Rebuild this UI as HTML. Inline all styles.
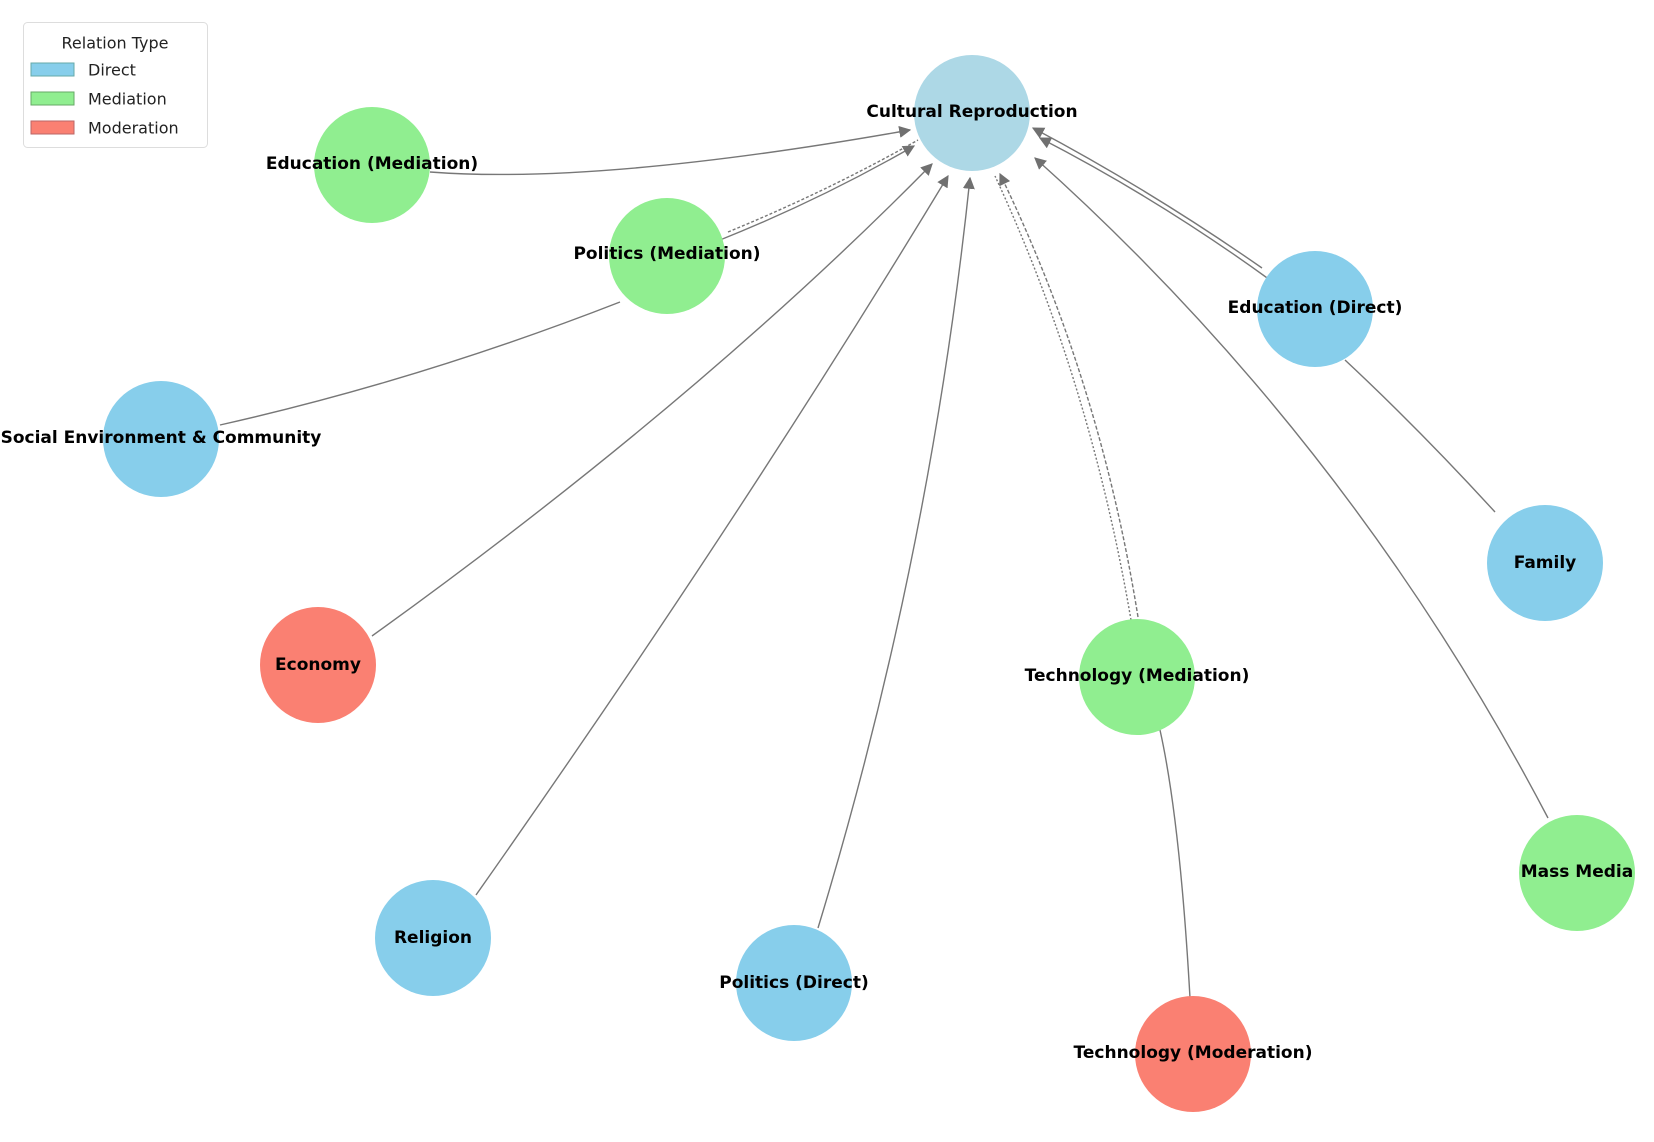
<!DOCTYPE html>
<html><head><meta charset="utf-8"><style>
html,body{margin:0;padding:0;background:#fff;}
svg{display:block;}
text{font-family:"DejaVu Sans","Liberation Sans",sans-serif;}
.l{font-size:17px;font-weight:bold;fill:#000;text-anchor:middle;dominant-baseline:central;}
.e{fill:none;stroke:#777;stroke-width:1.4;}
</style></head><body>
<svg width="1654" height="1142" viewBox="0 0 1654 1142">
<defs><marker id="a" viewBox="0 0 10 10" refX="9" refY="5" markerWidth="12" markerHeight="12" markerUnits="userSpaceOnUse" orient="auto"><path d="M0,0 L10,5 L0,10 z" fill="#707070"/></marker></defs>
<path class="e" d="M430,172 Q600,185 910,130" marker-end="url(#a)"/>
<path class="e" d="M720,240 Q820,200 914,146" marker-end="url(#a)"/>
<path class="e" d="M728,232 Q830,190 918,140" stroke-dasharray="3,2"/>
<path class="e" d="M220,425 Q420,380 620,302"/>
<path class="e" d="M372,636 Q700,400 932,164" marker-end="url(#a)"/>
<path class="e" d="M476,895 Q740,520 948,176" marker-end="url(#a)"/>
<path class="e" d="M818,928 Q930,560 970,178" marker-end="url(#a)"/>
<path class="e" d="M1138,617 Q1100,380 1000,174" marker-end="url(#a)" stroke-dasharray="4,2"/>
<path class="e" d="M1131,620 Q1090,380 995,176" stroke-dasharray="2,2"/>
<path class="e" d="M1190,998 Q1180,820 1160,730"/>
<path class="e" d="M1548,818 Q1350,440 1035,158" marker-end="url(#a)"/>
<path class="e" d="M1270,280 Q1160,200 1040,138" marker-end="url(#a)"/>
<path class="e" d="M1262,268 Q1150,190 1033,128" marker-end="url(#a)"/>
<path class="e" d="M1495,512 Q1420,430 1345,360"/>
<g>
<circle cx="972" cy="113" r="58" fill="#add8e6"/>
<circle cx="372" cy="165" r="58" fill="#90ee90"/>
<circle cx="667" cy="256" r="58" fill="#90ee90"/>
<circle cx="161" cy="439" r="58" fill="#87ceeb"/>
<circle cx="318" cy="665" r="58" fill="#fa8072"/>
<circle cx="433" cy="938" r="58" fill="#87ceeb"/>
<circle cx="794" cy="983" r="58" fill="#87ceeb"/>
<circle cx="1137" cy="677" r="58" fill="#90ee90"/>
<circle cx="1193" cy="1054" r="58" fill="#fa8072"/>
<circle cx="1577" cy="873" r="58" fill="#90ee90"/>
<circle cx="1545" cy="563" r="58" fill="#87ceeb"/>
<circle cx="1315" cy="309" r="58" fill="#87ceeb"/>
</g>
<text class="l" x="972" y="112">Cultural Reproduction</text>
<text class="l" x="372" y="164">Education (Mediation)</text>
<text class="l" x="667" y="254">Politics (Mediation)</text>
<text class="l" x="161" y="438">Social Environment &amp; Community</text>
<text class="l" x="318" y="665">Economy</text>
<text class="l" x="433" y="938">Religion</text>
<text class="l" x="794" y="983">Politics (Direct)</text>
<text class="l" x="1137" y="676">Technology (Mediation)</text>
<text class="l" x="1193" y="1053">Technology (Moderation)</text>
<text class="l" x="1577" y="872">Mass Media</text>
<text class="l" x="1545" y="563">Family</text>
<text class="l" x="1315" y="308">Education (Direct)</text>
<rect x="23.5" y="22.5" width="184" height="125" rx="4" fill="#fff" stroke="#ddd"/>
<text x="115" y="43" font-size="16" text-anchor="middle" dominant-baseline="central" fill="#222">Relation Type</text>
<rect x="31" y="63" width="43" height="13" fill="#87ceeb" stroke="#6aa"/>
<rect x="31" y="92" width="43" height="13" fill="#90ee90" stroke="#6a6"/>
<rect x="31" y="121" width="43" height="13" fill="#fa8072" stroke="#b66"/>
<text x="88" y="70" font-size="16" dominant-baseline="central" fill="#222">Direct</text>
<text x="88" y="99" font-size="16" dominant-baseline="central" fill="#222">Mediation</text>
<text x="88" y="128" font-size="16" dominant-baseline="central" fill="#222">Moderation</text>
</svg>
</body></html>
